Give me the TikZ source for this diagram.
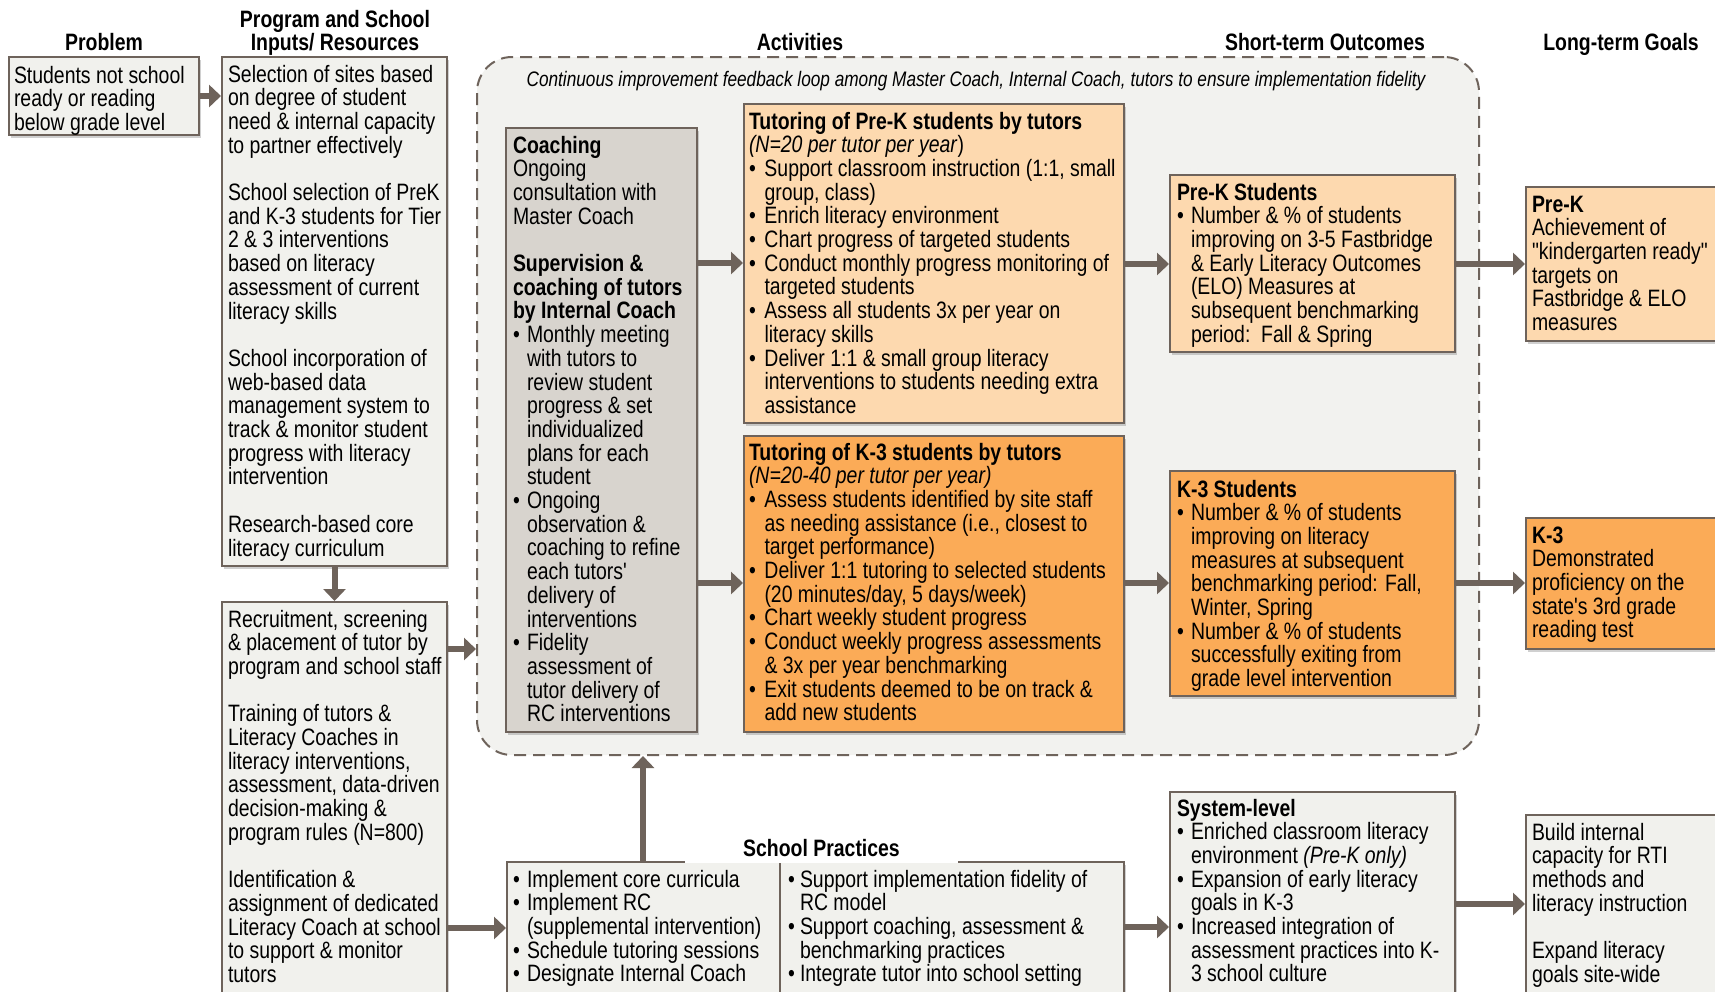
\documentclass[tikz,border=0pt]{standalone}
\usepackage{fontspec}
\setmainfont{Liberation Sans}[FakeStretch=0.82]
\newfontfamily\nolig{Liberation Sans}[FakeStretch=0.82]
\usetikzlibrary{arrows.meta,shadows}
\definecolor{edge}{HTML}{6E635B}
\definecolor{boxfill}{HTML}{F1F1ED}
\definecolor{contfill}{HTML}{F2F2EF}
\definecolor{coachfill}{HTML}{D8D4CE}
\definecolor{prekfill}{HTML}{FDD9AF}
\definecolor{kfill}{HTML}{FBAB57}
\newcommand{\bu}{\makebox[14pt][l]{\textbullet}}
\newcommand{\ct}{\hspace*{14pt}}
\newcommand{\btu}{\makebox[15.5pt][l]{\textbullet}}
\newcommand{\ctu}{\hspace*{15.5pt}}
\newcommand{\bsr}{\makebox[12pt][l]{\textbullet}}
\newcommand{\csr}{\hspace*{12pt}}
\newcommand{\st}{\rule{0pt}{20pt}}
\newcommand{\gap}{\mbox{}}
\newcommand{\dq}{{\nolig"}}
\newcommand{\sq}{{\nolig'}}
\newcommand{\tfont}{\fontsize{23.7}{23.7}\selectfont}
\newcommand{\mybox}[6]{\node[box,#6,minimum width={#4-#2},minimum height={#5-#3}] (#1) at ({(#2+#4)/2},{(#3+#5)/2}) {};}
\begin{document}
\begin{tikzpicture}[x=1pt,y=-1pt,
  every node/.style={inner sep=0pt, outer sep=0pt},
  box/.style={draw=edge, line width=2pt, outer sep=1pt,
    drop shadow={shadow xshift=2pt, shadow yshift=-2.5pt, opacity=0.3, fill=black!60}},
  txt/.style={anchor=north west, align=left, font=\tfont},
  hdr/.style={anchor=base, font=\tfont\bfseries},
  arr/.style={draw=edge, line width=6pt, -{Triangle[length=12pt,width=22pt]}},
]
\fill[white] (0,0) rectangle (1715,991);
\useasboundingbox (0,0) rectangle (1715,991);

% container
\node[draw=edge, line width=2pt, dash pattern=on 12pt off 7pt, fill=contfill,
  rounded corners=35pt, minimum width=1002, minimum height=698, outer sep=1pt] (cont) at (978,406) {};

% boxes
\mybox{prob}{9}{57}{199}{135}{fill=boxfill}
\mybox{in1}{222}{57}{447}{566}{fill=boxfill}
\mybox{in2}{222}{602}{447}{1005}{fill=boxfill}
\mybox{coach}{506}{128}{697}{732}{fill=coachfill}
\mybox{tprek}{744}{104}{1124}{423}{fill=prekfill}
\mybox{tk3}{744}{436}{1124}{732}{fill=kfill}
\mybox{sprek}{1170}{175}{1455}{352}{fill=prekfill}
\mybox{gprek}{1526}{187}{1730}{341}{fill=prekfill}
\mybox{sk3}{1170}{471}{1455}{696}{fill=kfill}
\mybox{gk3}{1526}{518}{1730}{649}{fill=kfill}
\mybox{school}{507}{862}{1124}{1005}{fill=boxfill}
\mybox{sys}{1170}{792}{1455}{1005}{fill=boxfill}
\mybox{last}{1526}{815}{1730}{1005}{fill=boxfill}

% helper coordinates
\coordinate (h649) at (0,649);
\coordinate (h928) at (0,928);
\coordinate (h263) at (0,263);
\coordinate (h264) at (0,264);
\coordinate (h583) at (0,583);
\coordinate (h927) at (0,927);
\coordinate (h904) at (0,904);
\coordinate (v643) at (643,0);
\coordinate (v780) at (780,0);

% divider
\draw[draw=edge, line width=2pt] (school.north -| v780) -- (school.south -| v780);

% arrows
\draw[arr] (prob.east) -- (prob.east -| in1.west);
\draw[arr] (in1.south) -- (in2.north);
\draw[arr] (in2.east |- h649) -- (cont.west |- h649);
\draw[arr] (in2.east |- h928) -- (school.west |- h928);
\draw[arr] (coach.east |- h263) -- (tprek.west |- h263);
\draw[arr] (coach.east |- h583) -- (tk3.west |- h583);
\draw[arr] (tprek.east |- h264) -- (sprek.west |- h264);
\draw[arr] (sprek.east |- h264) -- (gprek.west |- h264);
\draw[arr] (tk3.east |- h583) -- (sk3.west |- h583);
\draw[arr] (sk3.east |- h583) -- (gk3.west |- h583);
\draw[arr] (school.east |- h927) -- (sys.west |- h927);
\draw[arr] (sys.east |- h904) -- (last.west |- h904);
\draw[arr] (school.north -| v643) -- (cont.south -| v643);

% headers
\node[hdr] (hProb) at (104,50) {Problem};
\node[hdr] (hIn1) at (335,27) {Program and School};
\node[hdr] (hIn2) at (335,50) {Inputs/ Resources};
\node[hdr] (hAct) at (800,50) {Activities};
\node[hdr] (hST) at (1325,50) {Short-term Outcomes};
\node[hdr] (hLT) at (1621,50) {Long-term Goals};
\node[anchor=base, font=\fontsize{21}{21}\selectfont\itshape] (loop) at (976,86)
  {Continuous improvement feedback loop among Master Coach, Internal Coach, tutors to ensure implementation fidelity};
\node[anchor=base, fill=white, font=\tfont\bfseries, text height=20pt, text depth=7pt, minimum width=273] (spt) at (821.5,856) {School Practices};

% texts
\node[txt] (tprob) at (14,63) {\st Students not school\\ready or reading\\below grade level};
\node[txt] (tin1) at (228,62) {\st Selection of sites based\\
on degree of student\\
need \& internal capacity\\
to partner effectively\\
\gap\\
School selection of PreK\\
and K-3 students for Tier\\
2 \& 3 interventions\\
based on literacy\\
assessment of current\\
literacy skills\\
\gap\\
School incorporation of\\
web-based data\\
management system to\\
track \& monitor student\\
progress with literacy\\
intervention\\
\gap\\
Research-based core\\
literacy curriculum};
\node[txt] (tin2) at (228,607) {\st Recruitment, screening\\
\& placement of tutor by\\
program and school staff\\
\gap\\
Training of tutors \&\\
Literacy Coaches in\\
literacy interventions,\\
assessment, data-driven\\
decision-making \&\\
program rules (N=800)\\
\gap\\
Identification \&\\
assignment of dedicated\\
Literacy Coach at school\\
to support \& monitor\\
tutors};
\node[txt] (tcoach) at (513,133) {\st\textbf{Coaching}\\
Ongoing\\
consultation with\\
Master Coach\\
\gap\\
\textbf{Supervision \&}\\
\textbf{coaching of tutors}\\
\textbf{by Internal Coach}\\
\bu Monthly meeting\\
\ct with tutors to\\
\ct review student\\
\ct progress \& set\\
\ct individualized\\
\ct plans for each\\
\ct student\\
\bu Ongoing\\
\ct observation \&\\
\ct coaching to refine\\
\ct each tutors\sq\\
\ct delivery of\\
\ct interventions\\
\bu Fidelity\\
\ct assessment of\\
\ct tutor delivery of\\
\ct RC interventions};
\node[txt] (ttprek) at (749,109) {\st\textbf{Tutoring of Pre-K students by tutors}\\
\textit{(N=20 per tutor per year})\\
\btu Support classroom instruction (1:1, small\\
\ctu group, class)\\
\btu Enrich literacy environment\\
\btu Chart progress of targeted students\\
\btu Conduct monthly progress monitoring of\\
\ctu targeted students\\
\btu Assess all students 3x per year on\\
\ctu literacy skills\\
\btu Deliver 1:1 \& small group literacy\\
\ctu interventions to students needing extra\\
\ctu assistance};
\node[txt] (ttk3) at (749,440) {\st\textbf{Tutoring of K-3 students by tutors}\\
\textit{(N=20-40 per tutor per year)}\\
\btu Assess students identified by site staff\\
\ctu as needing assistance (i.e., closest to\\
\ctu target performance)\\
\btu Deliver 1:1 tutoring to selected students\\
\ctu (20 minutes/day, 5 days/week)\\
\btu Chart weekly student progress\\
\btu Conduct weekly progress assessments\\
\ctu \& 3x per year benchmarking\\
\btu Exit students deemed to be on track \&\\
\ctu add new students};
\node[txt] (tsprek) at (1177,180) {\st\textbf{Pre-K Students}\\
\bu Number \& \% of students\\
\ct improving on 3-5 Fastbridge\\
\ct \& Early Literacy Outcomes\\
\ct (ELO) Measures at\\
\ct subsequent benchmarking\\
\ct period:\ \ Fall \& Spring};
\node[txt] (tgprek) at (1532,192) {\st\textbf{Pre-K}\\
Achievement of\\
\dq kindergarten ready\dq\\
targets on\\
Fastbridge \& ELO\\
measures};
\node[txt] (tsk3) at (1177,477) {\st\textbf{K-3 Students}\\
\bu Number \& \% of students\\
\ct improving on literacy\\
\ct measures at subsequent\\
\ct benchmarking period: Fall,\\
\ct Winter, Spring\\
\bu Number \& \% of students\\
\ct successfully exiting from\\
\ct grade level intervention};
\node[txt] (tgk3) at (1532,523) {\st\textbf{K-3}\\
Demonstrated\\
proficiency on the\\
state\sq s 3rd grade\\
reading test};
\node[txt] (tschL) at (513,867) {\st\bu Implement core curricula\\
\bu Implement RC\\
\ct (supplemental intervention)\\
\bu Schedule tutoring sessions\\
\bu Designate Internal Coach};
\node[txt] (tschR) at (788,867) {\st\bsr Support implementation fidelity of\\
\csr RC model\\
\bsr Support coaching, assessment \&\\
\csr benchmarking practices\\
\bsr Integrate tutor into school setting};
\node[txt] (tsys) at (1177,796) {\st\textbf{System-level}\\
\bu Enriched classroom literacy\\
\ct environment \textit{(Pre-K only)}\\
\bu Expansion of early literacy\\
\ct goals in K-3\\
\bu Increased integration of\\
\ct assessment practices into K-\\
\ct 3 school culture};
\node[txt] (tlast) at (1532,820) {\st Build internal\\
capacity for RTI\\
methods and\\
literacy instruction\\
\gap\\
Expand literacy\\
goals site-wide};
\end{tikzpicture}
\end{document}
